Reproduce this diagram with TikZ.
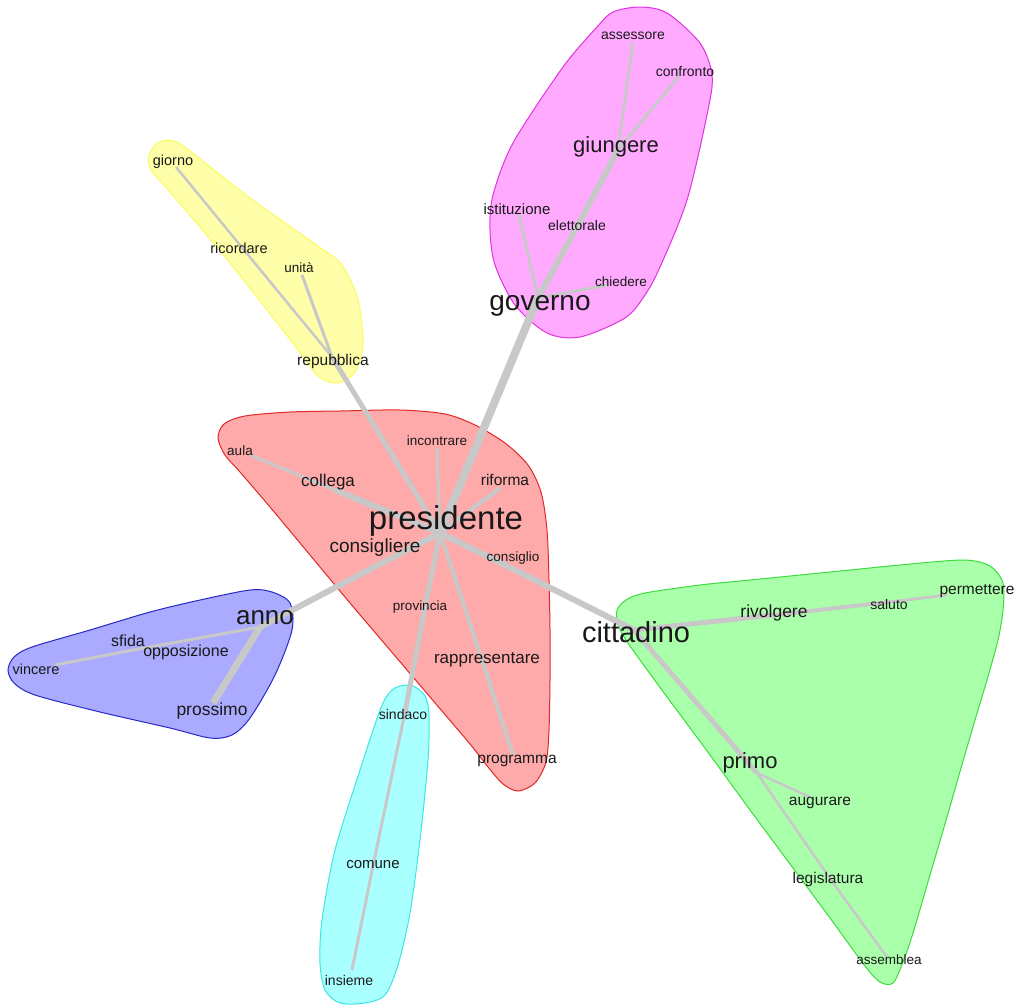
\documentclass[tikz,border=0pt]{standalone}
\usepackage{fontspec}
\setmainfont{Liberation Sans}
\definecolor{edgegray}{RGB}{200,200,200}
\definecolor{labtext}{RGB}{25,25,25}
\definecolor{redfill}{RGB}{255,170,170}\definecolor{redline}{RGB}{225,40,40}
\definecolor{magfill}{RGB}{255,170,255}\definecolor{magline}{RGB}{225,50,225}
\definecolor{yelfill}{RGB}{255,255,170}\definecolor{yelline}{RGB}{250,250,90}
\definecolor{blufill}{RGB}{170,170,255}\definecolor{bluline}{RGB}{40,40,200}
\definecolor{grefill}{RGB}{170,255,170}\definecolor{greline}{RGB}{60,220,60}
\definecolor{cyafill}{RGB}{170,255,255}\definecolor{cyaline}{RGB}{60,230,230}
\tikzset{
  hull/.style 2 args={fill=#1, draw=#2, line width=1pt},
  edge/.style={draw=edgegray, line width=#1},
  lbl/.style={text=labtext, inner sep=0pt, font=\fontsize{#1}{#1}\selectfont},
}
\begin{document}
\begin{tikzpicture}[x=1pt,y=-1pt]
\useasboundingbox (0,0) rectangle (1016,1005);
% ---------- hulls ----------
\filldraw[hull={redfill}{redline}] plot[smooth cycle, tension=0.5] coordinates {
 (218,438) (224,424) (245,416) (290,412) (340,411) (400,410) (445,414) (475,425) (505,443)
 (528,465) (541,492) (547,530) (549,580) (550,630) (550,680) (549,730) (546,762) (535,783)
 (518,791) (503,784) (488,767) (470,744) (430,697) (390,650) (350,603) (310,555)
 (270,507) (240,472) (225,455)};
\filldraw[hull={yelfill}{yelline}] plot[smooth cycle, tension=0.5] coordinates {
 (149,156) (156,144) (170,140) (186,148) (250,198) (318,246) (342,265) (358,300)
 (363,345) (355,372) (338,383) (318,376) (292,342) (230,263) (170,192) (151,170)};
\filldraw[hull={magfill}{magline}] plot[smooth cycle, tension=0.5] coordinates {
 (613,12) (640,7) (667,13) (700,43) (712,75) (708,110) (687,200) (660,267)
 (645,295) (625,318) (580,337) (547,333) (515,305) (495,265) (490,230) (493,195)
 (513,143) (563,67) (597,27)};
\filldraw[hull={blufill}{bluline}] plot[smooth cycle, tension=0.5] coordinates {
 (290,603) (272,592) (250,590) (200,600) (150,612) (90,630) (32,647) (14,657) (8,670) (14,683)
 (35,695) (100,712) (170,728) (210,738) (232,735) (250,718) (275,675) (292,630)};
\filldraw[hull={grefill}{greline}] plot[smooth cycle, tension=0.5] coordinates {
 (618,624) (617,610) (626,600) (645,593) (700,585) (750,580) (800,575) (850,570) (900,565)
 (963,560) (990,566) (1003,583) (1003,610) (998,640) (987,680) (975,720) (961,768) (947,817)
 (930,875) (913,933) (903,962) (893,983) (880,982) (865,966) (830,918) (790,864) (750,810)
 (710,755) (670,701) (640,660) (624,637)};
\filldraw[hull={cyafill}{cyaline}] plot[smooth cycle, tension=0.5] coordinates {
 (400,686) (413,686) (425,696) (429,715) (428,760) (420,840) (410,913) (398,965)
 (385,995) (365,1003) (340,1003) (325,990) (320,963) (322,920) (335,850) (360,770)
 (380,710) (390,692)};
% ---------- vertices ----------
\coordinate (presidente) at (440,533);
\coordinate (governo) at (538,298);
\coordinate (elettorale) at (578,225);
\coordinate (giungere) at (618,150);
\coordinate (assessore) at (633,42);
\coordinate (confronto) at (680,75);
\coordinate (istituzione) at (519,214);
\coordinate (chiedere) at (608,285);
\coordinate (repubblica) at (332,357);
\coordinate (unita) at (302,275);
\coordinate (ricordare) at (244,250);
\coordinate (giorno) at (176,167);
\coordinate (collega) at (335,490);
\coordinate (aula) at (250,455);
\coordinate (incontrare) at (437,448);
\coordinate (riforma) at (500,488);
\coordinate (consigliere) at (380,564);
\coordinate (anno) at (260,627);
\coordinate (prossimo) at (213,703);
\coordinate (sfida) at (128,651);
\coordinate (vincere) at (55,665);
\coordinate (opposizione) at (143,648);
\coordinate (provincia) at (425,607);
\coordinate (sindaco) at (405,712);
\coordinate (comune) at (373,866);
\coordinate (insieme) at (352,970);
\coordinate (rappresentare) at (482,660);
\coordinate (programma) at (513,755);
\coordinate (consiglio) at (513,569);
\coordinate (cittadino) at (634,630);
\coordinate (primo) at (757,773);
\coordinate (augurare) at (810,797);
\coordinate (legislatura) at (833,883);
\coordinate (assemblea) at (887,957);
\coordinate (rivolgere) at (774,615);
\coordinate (saluto) at (889,602);
\coordinate (permettere) at (947,595);
% ---------- edges ----------
\draw[edge=8pt] (presidente) -- (governo);
\draw[edge=6pt] (governo) -- (elettorale) -- (giungere);
\draw[edge=3pt] (giungere) -- (assessore);
\draw[edge=3pt] (giungere) -- (confronto);
\draw[edge=3pt] (governo) -- (istituzione);
\draw[edge=3pt] (governo) -- (chiedere);
\draw[edge=5pt] (presidente) -- (repubblica);
\draw[edge=3pt] (repubblica) -- (unita);
\draw[edge=2.5pt] (repubblica) -- (ricordare) -- (giorno);
\draw[edge=6pt] (presidente) -- (collega);
\draw[edge=3pt] (collega) -- (aula);
\draw[edge=3pt] (presidente) -- (incontrare);
\draw[edge=4pt] (presidente) -- (riforma);
\draw[edge=6pt] (presidente) -- (consigliere) -- (anno);
\draw[edge=7pt] (anno) -- (prossimo);
\draw[edge=3pt] (anno) -- (sfida) -- (vincere);
\draw[edge=2pt] (anno) -- (opposizione);
\draw[edge=5pt] (presidente) -- (provincia) -- (sindaco);
\draw[edge=3pt] (sindaco) -- (comune) -- (insieme);
\draw[edge=4pt] (presidente) -- (rappresentare) -- (programma);
\draw[edge=6pt] (presidente) -- (consiglio) -- (cittadino);
\draw[edge=5pt] (cittadino) -- (primo);
\draw[edge=2.5pt] (primo) -- (augurare);
\draw[edge=2.5pt] (primo) -- (legislatura) -- (assemblea);
\draw[edge=5pt] (cittadino) -- (rivolgere);
\draw[edge=4pt] (rivolgere) -- (saluto);
\draw[edge=3pt] (saluto) -- (permettere);
% ---------- labels ----------
\node[lbl=33] (l-presidente) at (446,521) {presidente};
\node[lbl=28] (l-governo) at (540,306) {governo};
\node[lbl=29] (l-cittadino) at (636,632) {cittadino};
\node[lbl=26] (l-anno) at (265,618) {anno};
\node[lbl=22] (l-giungere) at (616,147) {giungere};
\node[lbl=22] (l-primo) at (750,763) {primo};
\node[lbl=19] (l-consigliere) at (375,548) {consigliere};
\node[lbl=17] (l-collega) at (328,482) {collega};
\node[lbl=17] (l-rappresentare) at (487,660) {rappresentare};
\node[lbl=17.5] (l-rivolgere) at (774,613) {rivolgere};
\node[lbl=17.5] (l-prossimo) at (212,711) {prossimo};
\node[lbl=16] (l-opposizione) at (186,652) {opposizione};
\node[lbl=16] (l-sfida) at (128,641) {sfida};
\node[lbl=15.5] (l-riforma) at (505,480) {riforma};
\node[lbl=13.5] (l-incontrare) at (437,441) {incontrare};
\node[lbl=13.5] (l-aula) at (240,451) {aula};
\node[lbl=13.5] (l-consiglio) at (513,558) {consiglio};
\node[lbl=13.5] (l-provincia) at (420,607) {provincia};
\node[lbl=15.5] (l-programma) at (517,761) {programma};
\node[lbl=14] (l-sindaco) at (403,714) {sindaco};
\node[lbl=15] (l-comune) at (373,865) {comune};
\node[lbl=14] (l-insieme) at (349,980) {insieme};
\node[lbl=14.5] (l-vincere) at (36,669) {vincere};
\node[lbl=15.5] (l-repubblica) at (333,361) {repubblica};
\node[lbl=14.5] (l-ricordare) at (239,248) {ricordare};
\node[lbl=13.5] (l-unita) at (299,268) {unità};
\node[lbl=14.5] (l-giorno) at (173,162) {giorno};
\node[lbl=15] (l-istituzione) at (517,209) {istituzione};
\node[lbl=14] (l-elettorale) at (577,225) {elettorale};
\node[lbl=13.5] (l-chiedere) at (621,282) {chiedere};
\node[lbl=14] (l-assessore) at (633,36) {assessore};
\node[lbl=14] (l-confronto) at (685,71) {confronto};
\node[lbl=14] (l-saluto) at (889,604) {saluto};
\node[lbl=15.5] (l-permettere) at (977,591) {permettere};
\node[lbl=15.5] (l-augurare) at (820,803) {augurare};
\node[lbl=15.5] (l-legislatura) at (828,879) {legislatura};
\node[lbl=13.5] (l-assemblea) at (889,960) {assemblea};
\end{tikzpicture}
\end{document}
